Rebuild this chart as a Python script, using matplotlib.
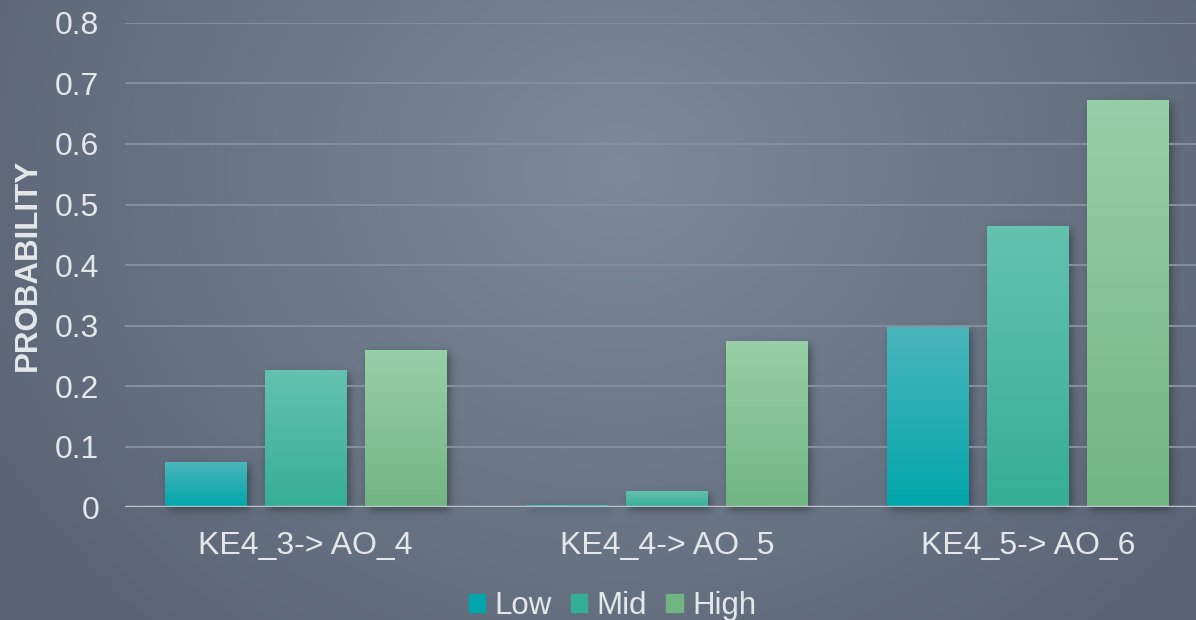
import numpy as np
import matplotlib
matplotlib.use("Agg")
import matplotlib.pyplot as plt
from matplotlib.colors import to_rgb
from matplotlib.patches import Rectangle

# ==== Dados ====
categories = ["KE4_3-> AO_4", "KE4_4-> AO_5", "KE4_5-> AO_6"]
series = ["Low", "Mid", "High"]
low = [0.073, 0.003, 0.297]
mid = [0.225, 0.025, 0.463]
high = [0.259, 0.273, 0.671]
yticks = [0, 0.1, 0.2, 0.3, 0.4, 0.5, 0.6, 0.7, 0.8]
ytick_labels = ["0", "0.1", "0.2", "0.3", "0.4", "0.5", "0.6", "0.7", "0.8"]

# cores do degradê de cada série (topo, base)
grad_colors = {
    "Low": ("#4ab6bc", "#00a6ab"),
    "Mid": ("#64c2af", "#35ae96"),
    "High": ("#97d0a6", "#71b583"),
}
text_color = "#e4e7ea"
fs = 23

W, H, DPI = 1196, 620, 100
plt.rcParams["font.family"] = ["Liberation Sans", "DejaVu Sans"]
fig = plt.figure(figsize=(W / DPI, H / DPI), dpi=DPI)

ax = fig.add_axes([0.1045, 0.182, 0.906, 0.781])
ax.set_facecolor("none")

x = np.arange(len(categories))
width, step = 0.227, 0.277
bar_sets = []
for i, (name, vals) in enumerate(zip(series, [low, mid, high])):
    bars = ax.bar(x + (i - 1) * step, vals, width, color="none", zorder=3)
    bar_sets.append((name, bars))

# preenchimento em degradê vertical de cada barra
for name, bars in bar_sets:
    top, bottom = grad_colors[name]
    t = np.linspace(0, 1, 128)[:, None, None]
    g = np.array(to_rgb(top)) * (1 - t) + np.array(to_rgb(bottom)) * t
    for b in bars:
        ax.imshow(g, extent=[b.get_x(), b.get_x() + b.get_width(), 0, b.get_height()],
                  aspect="auto", zorder=3, interpolation="bilinear")

ax.set_xlim(-0.5, 2.5)
ax.set_ylim(0, 0.8)
ax.set_xticks(x)
ax.set_xticklabels(categories)
ax.set_yticks(yticks)
ax.set_yticklabels(ytick_labels)
ax.tick_params(axis="both", length=0, labelsize=fs, colors=text_color)
ax.tick_params(axis="y", pad=18.5)
ax.tick_params(axis="x", pad=17)
for s in ax.spines.values():
    s.set_visible(False)
ax.yaxis.grid(True, color="#838f9d", linewidth=1.5)
ax.set_axisbelow(True)
ax.axhline(0, color="#c8cbcf", linewidth=2.5, alpha=0.85, zorder=5)

ax.set_ylabel("PROBABILITY", fontsize=22.5, fontweight="bold", color=text_color)
ax.yaxis.set_label_coords(-0.076, 0.5)

handles = [Rectangle((0, 0), 1, 1, color=grad_colors[n][1]) for n in series]
fig.legend(handles, series, loc="center", bbox_to_anchor=(0.512, 0.023), ncol=3,
           frameon=False, fontsize=22.5, labelcolor=text_color,
           handlelength=0.52, handleheight=0.52, handletextpad=0.3, columnspacing=0.62)

# ==== Fundo em degradê radial ====
yy, xx = np.mgrid[0:H, 0:W]
r = np.sqrt(((xx - 620) / 720) ** 2 + ((yy - 170) / 620) ** 2)
t = np.clip(r, 0, 1)[..., None]
bg = np.array(to_rgb("#7d8a9a")) * (1 - t) + np.array(to_rgb("#5a6474")) * t
fig.figimage(bg, 0, 0, zorder=-10, origin="upper")

# ==== Sombra suave das barras ====
fig.canvas.draw()
renderer = fig.canvas.get_renderer()
mask = np.zeros((H, W))
off = 3
for name, bars in bar_sets:
    for b in bars:
        e = b.get_window_extent(renderer)
        c0, c1 = int(round(e.x0)) + off, int(round(e.x1)) + off
        r0, r1 = H - int(round(e.y1)) + off, H - int(round(e.y0)) + off
        mask[max(r0, 0):min(r1, H), max(c0, 0):min(c1, W)] = 1.0

k = np.exp(-0.5 * (np.arange(-12, 13) / 4.0) ** 2)
k /= k.sum()
mask = np.apply_along_axis(lambda v: np.convolve(v, k, mode="same"), 0, mask)
mask = np.apply_along_axis(lambda v: np.convolve(v, k, mode="same"), 1, mask)
shadow = np.zeros((H, W, 4))
shadow[..., :3] = to_rgb("#262b33")
shadow[..., 3] = mask * 0.55
fig.figimage(shadow, 0, 0, zorder=-5, origin="upper")

fig.savefig("out.png", dpi=DPI)
